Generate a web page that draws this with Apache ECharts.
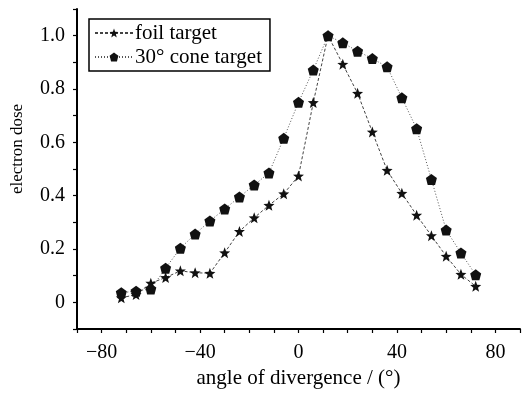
<!DOCTYPE html>
<html>
<head>
<meta charset="utf-8">
<script src="https://cdn.jsdelivr.net/npm/echarts@6/dist/echarts.min.js"></script>
<style>html,body{margin:0;padding:0;background:#fff}#c{width:523px;height:394px}</style>
</head>
<body>
<div id="c"></div>
<script>
const angles = [-72,-66,-60,-54,-48,-42,-36,-30,-24,-18,-12,-6,0,6,12,18,24,30,36,42,48,54,60,66,72];
const foilDose = [0.017,0.029,0.072,0.093,0.118,0.111,0.109,0.186,0.266,0.317,0.364,0.407,0.474,0.749,1.0,0.893,0.784,0.639,0.495,0.409,0.327,0.25,0.173,0.105,0.06];
const coneDose = [0.036,0.042,0.05,0.128,0.203,0.256,0.305,0.35,0.395,0.44,0.485,0.615,0.75,0.871,1.0,0.973,0.942,0.914,0.883,0.767,0.651,0.461,0.271,0.185,0.103];
const seriesNames = ['foil target', '30° cone target'];
const xLabels = [-80, -40, 0, 40, 80];
const yLabels = [0, 0.2, 0.4, 0.6, 0.8, 1.0];

const STAR = 'path://M50 0 L62.34 33.01 L97.55 34.55 L69.97 56.49 L79.39 90.45 L50 71 L20.61 90.45 L30.03 56.49 L2.45 34.55 L37.66 33.01 Z';
const PENT = 'path://M50 2 L95 34 L80 88 L20 88 L5 34 Z';
const FONT = '"Liberation Serif", "Times New Roman", serif';

const chart = echarts.init(document.getElementById('c'), null, {renderer: 'canvas'});
chart.setOption({
  animation: false,
  backgroundColor: '#fff',
  grid: {left: 77, right: 0, top: 9, bottom: 59, containLabel: false},
  legend: {
    orient: 'vertical', left: 89, top: 19,
    borderColor: '#000', borderWidth: 1.5, borderRadius: 0,
    padding: [2, 8, 2, 5], itemGap: 0,
    itemWidth: 38, itemHeight: 11,
    textStyle: {fontFamily: FONT, fontSize: 21, lineHeight: 24, color: '#000', padding: [0,0,0,-3]},
    data: seriesNames
  },
  xAxis: {
    type: 'value', min: -90, max: 90, interval: 10,
    name: 'angle of divergence / (°)', nameLocation: 'middle', nameGap: 39,
    nameTextStyle: {fontFamily: FONT, fontSize: 21, color: '#000'},
    axisLine: {onZero: false, lineStyle: {color: '#000', width: 2}},
    axisTick: {show: true, inside: false, length: 4, lineStyle: {color: '#000', width: 1.2}},
    axisLabel: {
      margin: 14, fontFamily: FONT, fontSize: 20, color: '#000',
      formatter: v => xLabels.indexOf(Math.round(v)) >= 0 ? String(Math.round(v)).replace('-', '\u2212') : ''
    },
    splitLine: {show: false}
  },
  yAxis: {
    type: 'value', min: -0.1, max: 1.1, interval: 0.1,
    name: 'electron dose', nameLocation: 'middle', nameGap: 51, nameRotate: 90,
    nameTextStyle: {fontFamily: FONT, fontSize: 17, color: '#000', padding: [0, 0, 0, 40]},
    axisLine: {onZero: false, lineStyle: {color: '#000', width: 2}},
    axisTick: {show: true, inside: false, length: 4, lineStyle: {color: '#000', width: 1.2}},
    axisLabel: {
      margin: 12, fontFamily: FONT, fontSize: 20, color: '#000',
      formatter: v => {
        const k = Math.round(v * 10);
        const match = yLabels.some(y => Math.round(y * 10) === k);
        if (!match) return '';
        return k === 0 ? '0' : (k / 10).toFixed(1);
      }
    },
    splitLine: {show: false}
  },
  series: [
    {
      name: seriesNames[0], type: 'line',
      data: angles.map((a, i) => [a, foilDose[i]]),
      symbol: STAR, symbolSize: 11,
      itemStyle: {color: '#111'},
      lineStyle: {color: '#444', width: 1, type: [3, 2]}
    },
    {
      name: seriesNames[1], type: 'line',
      data: angles.map((a, i) => [a, coneDose[i]]),
      symbol: PENT, symbolSize: 11,
      itemStyle: {color: '#111'},
      lineStyle: {color: '#555', width: 1, type: [1, 2]}
    }
  ]
});
</script>
</body>
</html>
